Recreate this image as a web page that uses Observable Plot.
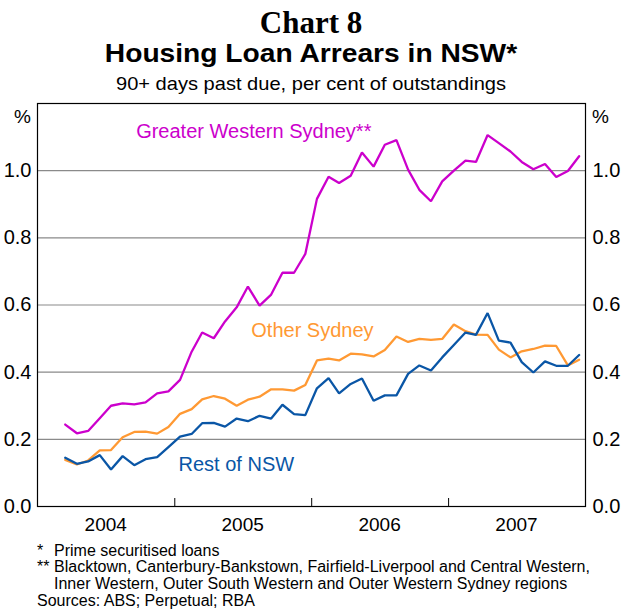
<!DOCTYPE html>
<html>
<head>
<meta charset="utf-8">
<script src="https://cdn.jsdelivr.net/npm/d3@7"></script>
<script src="https://cdn.jsdelivr.net/npm/@observablehq/plot@0.6"></script>
<style>
  html, body { margin: 0; padding: 0; background: #fff; }
  body { width: 622px; height: 610px; position: relative; overflow: hidden; font-family: "Liberation Sans", Arial, sans-serif; color: #000; }
  .t1 { position: absolute; left: 0; width: 622px; text-align: center; top: 6px; font: bold 31px "Liberation Serif", serif; line-height: 34px; }
  .t2 { position: absolute; left: 0; width: 622px; text-align: center; top: 39px; font: bold 25.5px "Liberation Sans", Arial, sans-serif; line-height: 28px; transform: scaleX(1.105); transform-origin: 311px 50%; }
  .t3 { position: absolute; left: 0; width: 622px; text-align: center; top: 73px; font: 18.5px "Liberation Sans", Arial, sans-serif; line-height: 21px; transform: scaleX(1.085); transform-origin: 311px 50%; }
  #chart { position: absolute; left: 0; top: 95px; }
  .fn { position: absolute; font: 16px "Liberation Sans", Arial, sans-serif; line-height: 18px; white-space: nowrap; }
</style>
</head>
<body>
<div class="t1">Chart 8</div>
<div class="t2">Housing Loan Arrears in NSW*</div>
<div class="t3">90+ days past due, per cent of outstandings</div>
<div id="chart"></div>
<div class="fn" style="left:37px;top:542px;">*</div>
<div class="fn" style="left:54px;top:542px;">Prime securitised loans</div>
<div class="fn" style="left:37px;top:558px;">**</div>
<div class="fn" style="left:54px;top:558px;">Blacktown, Canterbury-Bankstown, Fairfield-Liverpool and Central Western,</div>
<div class="fn" style="left:54px;top:575px;">Inner Western, Outer South Western and Outer Western Sydney regions</div>
<div class="fn" style="left:37px;top:592px;">Sources: ABS; Perpetual; RBA</div>
<script>
// Monthly observations, March 2004 to December 2007
const months = [
  "2004-03","2004-04","2004-05","2004-06","2004-07","2004-08","2004-09","2004-10","2004-11","2004-12",
  "2005-01","2005-02","2005-03","2005-04","2005-05","2005-06","2005-07","2005-08","2005-09","2005-10","2005-11","2005-12",
  "2006-01","2006-02","2006-03","2006-04","2006-05","2006-06","2006-07","2006-08","2006-09","2006-10","2006-11","2006-12",
  "2007-01","2007-02","2007-03","2007-04","2007-05","2007-06","2007-07","2007-08","2007-09","2007-10","2007-11","2007-12"
];
const greaterWesternSydney = [
  0.244, 0.218, 0.225, 0.263, 0.300, 0.307, 0.304, 0.310, 0.337, 0.343,
  0.377, 0.461, 0.518, 0.501, 0.551, 0.593, 0.655, 0.598, 0.631, 0.696, 0.696, 0.752,
  0.916, 0.982, 0.963, 0.985, 1.054, 1.012, 1.077, 1.091, 1.003, 0.943, 0.909, 0.968,
  1.000, 1.030, 1.026, 1.106, 1.082, 1.057, 1.026, 1.004, 1.020, 0.981, 0.999, 1.043
];
const otherSydney = [
  0.139, 0.125, 0.137, 0.167, 0.168, 0.206, 0.222, 0.223, 0.217, 0.237,
  0.276, 0.290, 0.319, 0.329, 0.321, 0.300, 0.318, 0.327, 0.349, 0.349, 0.345, 0.362,
  0.435, 0.440, 0.435, 0.455, 0.453, 0.447, 0.466, 0.506, 0.490, 0.499, 0.496, 0.499,
  0.542, 0.522, 0.512, 0.511, 0.467, 0.444, 0.462, 0.469, 0.479, 0.478, 0.420, 0.437
];
const restOfNSW = [
  0.145, 0.127, 0.134, 0.153, 0.110, 0.150, 0.123, 0.141, 0.147, 0.177,
  0.208, 0.216, 0.248, 0.249, 0.238, 0.262, 0.254, 0.270, 0.262, 0.303, 0.275, 0.272,
  0.352, 0.382, 0.337, 0.365, 0.381, 0.315, 0.331, 0.331, 0.395, 0.420, 0.405, 0.444,
  0.481, 0.518, 0.511, 0.576, 0.494, 0.488, 0.430, 0.399, 0.432, 0.419, 0.419, 0.451
];
const seriesNames = ["Greater Western Sydney**", "Other Sydney", "Rest of NSW"];
const seriesColors = ["#cc00cc", "#ff9933", "#0a56a6"];
const yTicks = [0, 0.2, 0.4, 0.6, 0.8, 1.0];
const yearBoundaries = ["2005", "2006", "2007"];
const yearLabels = ["2004", "2005", "2006", "2007"];
const xDomain = ["2004-01-01", "2008-01-01"];
const yDomain = [0, 1.2];
// series label anchors (date, value)
const labelDates = ["2004-09-20", "2005-07-24", "2005-01-11"];
const labelValues = [1.116, 0.524, 0.125];

const parseMonth = d3.utcParse("%Y-%m");
const midMonth = m => d3.utcDay.offset(parseMonth(m), 14);
const seriesValues = [greaterWesternSydney, otherSydney, restOfNSW];
const rows = seriesNames.flatMap((name, s) =>
  months.map((m, i) => ({ date: midMonth(m), value: seriesValues[s][i], series: name })));
const labels = seriesNames.map((name, s) => ({ date: new Date(labelDates[s]), value: labelValues[s], series: name }));
const boundaryDates = yearBoundaries.map(y => new Date(Date.UTC(+y, 0, 1)));
const midYearDates = yearLabels.map(y => new Date(Date.UTC(+y, 6, 1)));

const chart = Plot.plot({
  width: 622,
  height: 445,
  marginLeft: 37,
  marginRight: 37,
  marginTop: 8,
  marginBottom: 34,
  style: { fontFamily: "Liberation Sans, Arial, sans-serif", fontSize: "20px", color: "#000", background: "#fff" },
  x: { type: "utc", domain: xDomain.map(d => new Date(d)) },
  y: { domain: yDomain },
  color: { domain: seriesNames, range: seriesColors },
  marks: [
    Plot.gridY(yTicks.slice(1), { stroke: "#8a8a8a", strokeOpacity: 1, strokeWidth: 1.2 }),
    Plot.ruleX(boundaryDates, { x: d => d, stroke: "#000", insetTop: 395 }),
    Plot.axisY(yTicks, { anchor: "left", tickSize: 0, tickPadding: 6, tickFormat: d3.format(".1f"), fontSize: 20, label: null }),
    Plot.axisY(yTicks, { anchor: "right", tickSize: 0, tickPadding: 7, tickFormat: d3.format(".1f"), fontSize: 20, label: null }),
    Plot.axisX(midYearDates, { anchor: "bottom", tickSize: 0, tickPadding: 11, tickFormat: d3.utcFormat("%Y"), fontSize: 19, label: null }),
    Plot.text(["%"], { frameAnchor: "top-left", dx: -15, dy: 6, textAnchor: "middle", fontSize: 19 }),
    Plot.text(["%"], { frameAnchor: "top-right", dx: 15, dy: 6, textAnchor: "middle", fontSize: 19 }),
    Plot.line(rows, { x: "date", y: "value", z: "series", stroke: "series", strokeWidth: 2.3, strokeLinejoin: "miter" }),
    Plot.text(labels, { x: "date", y: "value", text: "series", fill: "series", textAnchor: "start", fontSize: 20 }),
    Plot.frame({ stroke: "#000", strokeWidth: 1.2 })
  ]
});
document.getElementById("chart").appendChild(chart);
</script>
</body>
</html>
